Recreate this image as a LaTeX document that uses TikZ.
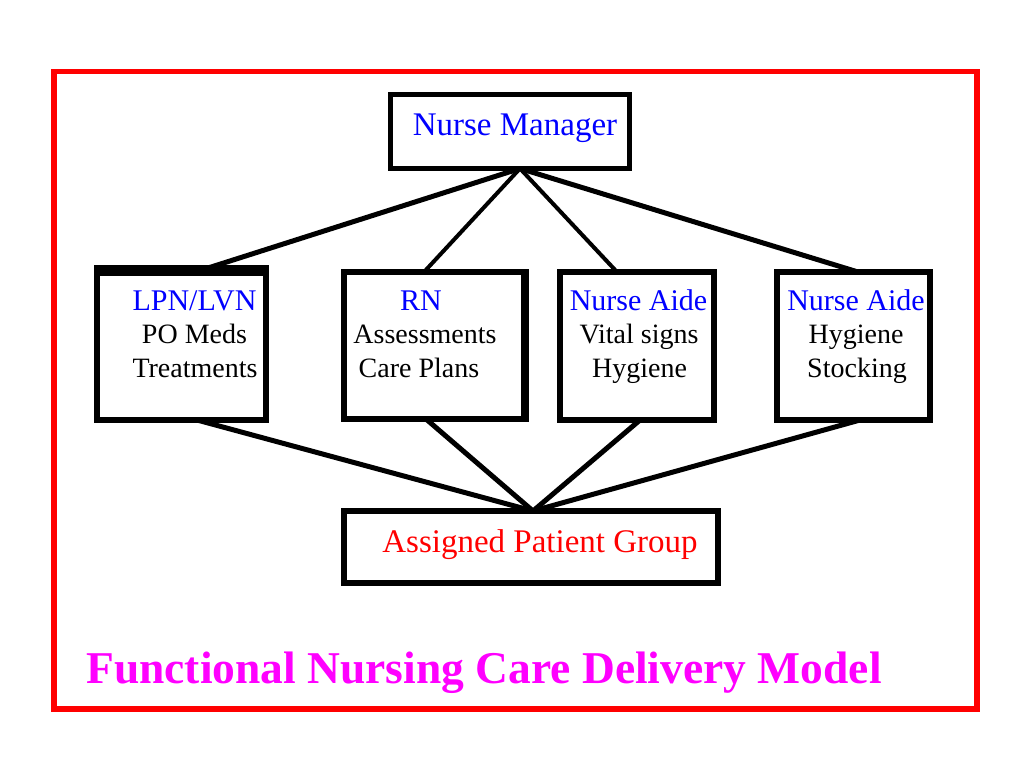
\documentclass[tikz,border=0pt]{standalone}
\usepackage{fontspec}
\setmainfont{Liberation Serif}
\definecolor{titlemag}{RGB}{255,0,255}
\definecolor{pureblue}{RGB}{0,0,255}
\definecolor{purered}{RGB}{255,0,0}
\begin{document}
\begin{tikzpicture}[x=1pt,y=-1pt,
  box/.style={draw=black,line width=6pt,rectangle,inner sep=0pt,outer sep=0pt,fill=white},
  conn/.style={draw=black,line width=5pt},
  connthin/.style={draw=black,line width=4pt},
  txt/.style={inner sep=0pt,outer sep=0pt,anchor=base},
  head/.style={txt,text=pureblue,font=\rmfamily\fontsize{30}{36}\selectfont},
  item/.style={txt,text=black,font=\rmfamily\fontsize{28}{34}\selectfont},
  big/.style={txt,font=\rmfamily\fontsize{33}{40}\selectfont}]
\useasboundingbox (0,0) rectangle (1024,768);
\fill[white] (0,0) rectangle (1024,768);
% frame
\node[draw=purered,line width=5.5pt,rectangle,inner sep=0pt,minimum width=923pt,minimum height=637.5pt] (frame) at (515.5,390.25) {};
% boxes
\node[box,line width=5.5pt,minimum width=239pt,minimum height=74pt] (nm) at (510,131.5) {};
\node[box,minimum width=169pt,minimum height=152pt] (lpn) at (181.5,344) {};
\node[box,minimum width=180pt,minimum height=147pt] (rn) at (434,345.5) {};
\node[box,minimum width=154pt,minimum height=148pt] (na1) at (637,346) {};
\node[box,minimum width=153pt,minimum height=148pt] (na2) at (853.5,346) {};
\node[box,minimum width=374pt,minimum height=72pt] (apg) at (531,547) {};
% thicker edges
\draw[line width=11pt] ([xshift=-3pt,yshift=-2.5pt]lpn.north west) -- ([xshift=3pt,yshift=-2.5pt]lpn.north east);
\draw[line width=8pt] ([xshift=1pt,yshift=3pt]rn.north east) -- ([xshift=1pt,yshift=-3pt]rn.south east);
% connectors top
\draw[conn] ([xshift=10pt]nm.south) -- ([xshift=26.5pt]lpn.north);
\draw[connthin] ([xshift=10pt]nm.south) -- ([xshift=-10pt]rn.north);
\draw[connthin] ([xshift=10pt]nm.south) -- ([xshift=-20pt]na1.north);
\draw[conn] ([xshift=10pt]nm.south) -- ([xshift=4.5pt]na2.north);
% connectors bottom
\draw[conn] ([xshift=15.5pt]lpn.south) -- ([xshift=2pt]apg.north);
\draw[conn] ([xshift=-8pt]rn.south) -- ([xshift=2pt]apg.north);
\draw[conn] ([xshift=3pt]na1.south) -- ([xshift=2pt]apg.north);
\draw[conn] ([xshift=6.5pt]na2.south) -- ([xshift=2pt]apg.north);
% texts
\node[big,text=pureblue] (tnm) at (515,135) {Nurse Manager};
\node[head] (t1a) at (194.5,310) {LPN/LVN};
\node[item] (t1b) at (194.5,343) {PO Meds};
\node[item] (t1c) at (195,377) {Treatments};
\node[head] (t2a) at (421,310) {RN};
\node[item] (t2b) at (425,343) {Assessments};
\node[item] (t2c) at (419,377) {Care Plans};
\node[head] (t3a) at (638.5,310) {Nurse Aide};
\node[item] (t3b) at (639,343) {Vital signs};
\node[item] (t3c) at (639.5,377) {Hygiene};
\node[head] (t4a) at (856,310) {Nurse Aide};
\node[item] (t4b) at (856,343) {Hygiene};
\node[item] (t4c) at (857,377) {Stocking};
\node[big,text=purered] (tapg) at (540,552) {Assigned Patient Group};
\node[txt,text=titlemag,font=\rmfamily\bfseries\fontsize{45.5}{54}\selectfont] (title) at (484,683) {Functional Nursing Care Delivery Model};
\end{tikzpicture}
\end{document}
